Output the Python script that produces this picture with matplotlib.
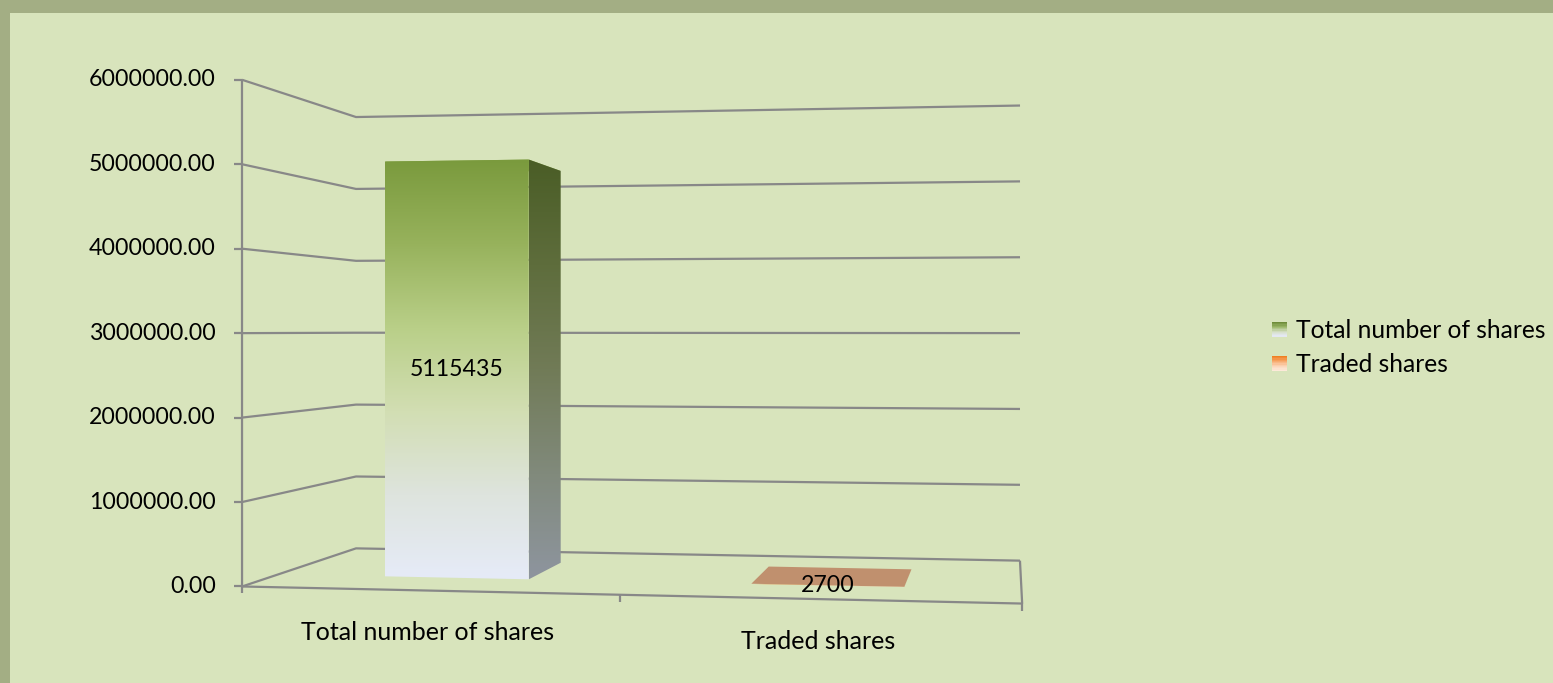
import numpy as np
import matplotlib
matplotlib.use('Agg')
import matplotlib.pyplot as plt
import matplotlib.transforms as mtransforms
from matplotlib.patches import Polygon, Rectangle, Patch
from matplotlib.colors import LinearSegmentedColormap
from matplotlib.legend_handler import HandlerBase

# ---------------- data ----------------
categories = ['Total number of shares', 'Traded shares']
series_names = ['Total number of shares', 'Traded shares']
values = [5115435, 2700]
value_labels = ['5115435', '2700']
y_ticks = [0, 1000000, 2000000, 3000000, 4000000, 5000000, 6000000]
y_tick_labels = ['%.2f' % t for t in y_ticks]
y_max = 6000000

# ---------------- styles ----------------
FONT = 'Lato'
FS_NUM = 16.7
FS_TXT = 18.0
FS_LEG = 17.7
GRID = '#888888'
front_cols = [['#7A9A3D', '#97B25C', '#B9CF88', '#D2DEB3', '#DEE4DE', '#E6EBF8'],
              ['#F07F22', '#F7B27F', '#FBD3B4', '#FDE9D9']]
side_cols = [['#4A5D26', '#5E6D3C', '#717B57', '#818A7C', '#8E959F'],
             ['#A85818', '#B8825C', '#C09070']]
top_cols = ['#8AA84F', '#C0906E']
legend_cols = [['#6E8C3A', '#9DB86A', '#D5DFC6', '#E4E8F2'],
               ['#F07F22', '#F7A86A', '#FBD3B4', '#FDE9D9']]

W, H, DPI = 1553, 683, 100
fig = plt.figure(figsize=(W / DPI, H / DPI), dpi=DPI)
fig.patch.set_facecolor('#A3AE84')
ax = fig.add_axes([0, 0, 1, 1])
ax.set_xlim(0, W)
ax.set_ylim(H, 0)
ax.axis('off')
ax.add_patch(Rectangle((10, 13), W, H, facecolor='#D8E4BC', edgecolor='none', zorder=0))

# ------------- perspective camera (plot box -> canvas pixels) -------------
VS = 1e6
box_world = np.array([
    (0, 0, 0), (0, 6, 0), (0, 3, 0), (0, 5, 0), (0, 1, 0),
    (0, 0, 1), (0, 6, 1), (0, 3, 1), (0, 5, 1), (0, 1, 1),
    (2, 0, 1), (2, 6, 1), (2, 3, 1), (2, 5, 1), (2, 1, 1),
    (2, 0, 0), (1, 0, 0)], float)
box_px = np.array([
    (242, 586), (242, 80), (242, 333), (242, 164), (242, 502),
    (356, 549), (356, 117), (356, 333), (356, 189), (356, 476),
    (1020, 560), (1020, 105), (1020, 333), (1020, 182), (1020, 485),
    (1022, 604), (620, 595)], float)


def fit_camera(w, p):
    A = []
    for (X, Y, Z), (u, v) in zip(w, p / 1000.0):
        A.append([X, Y, Z, 1, 0, 0, 0, 0, -u * X, -u * Y, -u * Z, -u])
        A.append([0, 0, 0, 0, X, Y, Z, 1, -v * X, -v * Y, -v * Z, -v])
    _, _, vt = np.linalg.svd(np.array(A))
    P = vt[-1].reshape(3, 4)
    return np.diag([1000.0, 1000.0, 1.0]) @ P


P = fit_camera(box_world, box_px)


class Homography(mtransforms.Transform):
    input_dims = output_dims = 2
    is_separable = False

    def __init__(self, M):
        super().__init__()
        self.M = M

    def transform_non_affine(self, values):
        v = np.asarray(values, float).reshape(-1, 2)
        h = np.column_stack([v, np.ones(len(v))]) @ self.M.T
        return h[:, :2] / h[:, 2:3]


def T_depth(d):   # plane at depth d, inputs (category x, value)
    return Homography(np.column_stack([P[:, 0], P[:, 1] / VS, P[:, 2] * d + P[:, 3]])) + ax.transData


def T_side(c):    # plane at category position c, inputs (depth, value)
    return Homography(np.column_stack([P[:, 2], P[:, 1] / VS, P[:, 0] * c + P[:, 3]])) + ax.transData


def T_level(val):  # horizontal plane at value val, inputs (category x, depth)
    return Homography(np.column_stack([P[:, 0], P[:, 2], P[:, 1] * val / VS + P[:, 3]])) + ax.transData


n_cat = len(categories)
line_kw = dict(color=GRID, lw=1.6, solid_capstyle='butt', zorder=2)

# gridlines on side wall and back wall
for t in y_ticks:
    ax.plot([0, 0, n_cat], [0, 1, 1], transform=T_level(t), **line_kw)

# value axis line and ticks
ax.plot([0, 0], [0, y_max], transform=T_depth(0), **line_kw)
ax.plot([0] * len(y_ticks), y_ticks, transform=T_depth(0), ls='none',
        marker=[(-1, 0), (0, 0)], ms=11, mec=GRID, mew=1.6, zorder=2)
for t, lab in zip(y_ticks, y_tick_labels):
    ax.text(0, t, lab, transform=mtransforms.offset_copy(T_depth(0), fig=fig, x=-26, y=0, units='dots'),
            ha='right', va='center', fontsize=FS_NUM, family=FONT, color='#000000')

# floor: front edge (category axis) and right edge
ax.plot([0, n_cat, n_cat], [0, 0, 1], transform=T_level(0), **line_kw)
ax.plot(range(n_cat + 1), [0] * (n_cat + 1), transform=T_level(0), ls='none',
        marker=[(0, 0), (0, -1)], ms=10, mec=GRID, mew=1.6, zorder=2)
for i, c in enumerate(categories):
    ax.text(i + 0.5, 0, c, transform=mtransforms.offset_copy(T_level(0), fig=fig, x=0, y=-42, units='dots'),
            ha='center', va='center', fontsize=FS_TXT, family=FONT, color='#000000')


def gradient_fill(poly_pts, trans, colors, z):
    patch = Polygon(poly_pts, closed=True, transform=trans, facecolor='none', edgecolor='none', zorder=z)
    ax.add_patch(patch)
    pix = ax.transData.inverted().transform(trans.transform(np.asarray(poly_pts, float)))
    x0, x1 = pix[:, 0].min(), pix[:, 0].max()
    y0, y1 = pix[:, 1].min(), pix[:, 1].max()
    cmap = LinearSegmentedColormap.from_list('g', colors)
    grad = np.linspace(0, 1, 256).reshape(-1, 1)
    im = ax.imshow(grad, cmap=cmap, extent=(x0, x1 + 0.5, y1 + 0.5, y0), origin='upper',
                   aspect='auto', interpolation='bilinear', zorder=z)
    im.set_clip_path(patch)


# bars
bw0, bw1 = 0.30, 0.70
bd0, bd1 = 0.29, 0.71
for i, (v, lab) in enumerate(zip(values, value_labels)):
    x0, x1 = i + bw0, i + bw1
    ax.add_patch(Polygon([(x0, bd0), (x1, bd0), (x1, bd1), (x0, bd1)], closed=True,
                         transform=T_level(v), facecolor=top_cols[i], edgecolor='none', zorder=3))
    gradient_fill([(bd0, 0), (bd1, 0), (bd1, v), (bd0, v)], T_side(x1), side_cols[i], 4)
    gradient_fill([(x0, 0), (x1, 0), (x1, v), (x0, v)], T_depth(bd0), front_cols[i], 5)
    ax.text((x0 + x1) / 2, v / 2, lab, transform=T_depth(bd0), ha='center', va='center',
            fontsize=FS_NUM, family=FONT, color='#000000', zorder=6)

ax.set_xlim(0, W)
ax.set_ylim(H, 0)


# legend with gradient squares
class HandlerGrad(HandlerBase):
    def create_artists(self, legend, orig_handle, xdescent, ydescent, width, height, fontsize, trans):
        cols = orig_handle.grad_cols
        n = 12
        side = height
        x0 = -xdescent + (width - side)
        y0 = -ydescent
        cmap = LinearSegmentedColormap.from_list('h', cols[::-1])
        arts = []
        for k in range(n):
            arts.append(Rectangle((x0, y0 + side * k / n), side, side / n + 0.01,
                                  facecolor=cmap(k / (n - 1)), edgecolor='none', transform=trans))
        return arts


handles = []
for name, cols in zip(series_names, legend_cols):
    h = Patch(label=name)
    h.grad_cols = cols
    handles.append(h)
ax.legend(handles=handles, loc='upper left', bbox_to_anchor=(1273 / W, 1 - 319 / H),
          bbox_transform=fig.transFigure, frameon=False,
          prop={'family': FONT, 'size': FS_LEG}, handler_map={Patch: HandlerGrad()},
          handlelength=0.55, handleheight=0.55, handletextpad=0.38, labelspacing=0.45,
          borderaxespad=0, borderpad=0)

fig.savefig('out.png', dpi=DPI, facecolor=fig.get_facecolor())
